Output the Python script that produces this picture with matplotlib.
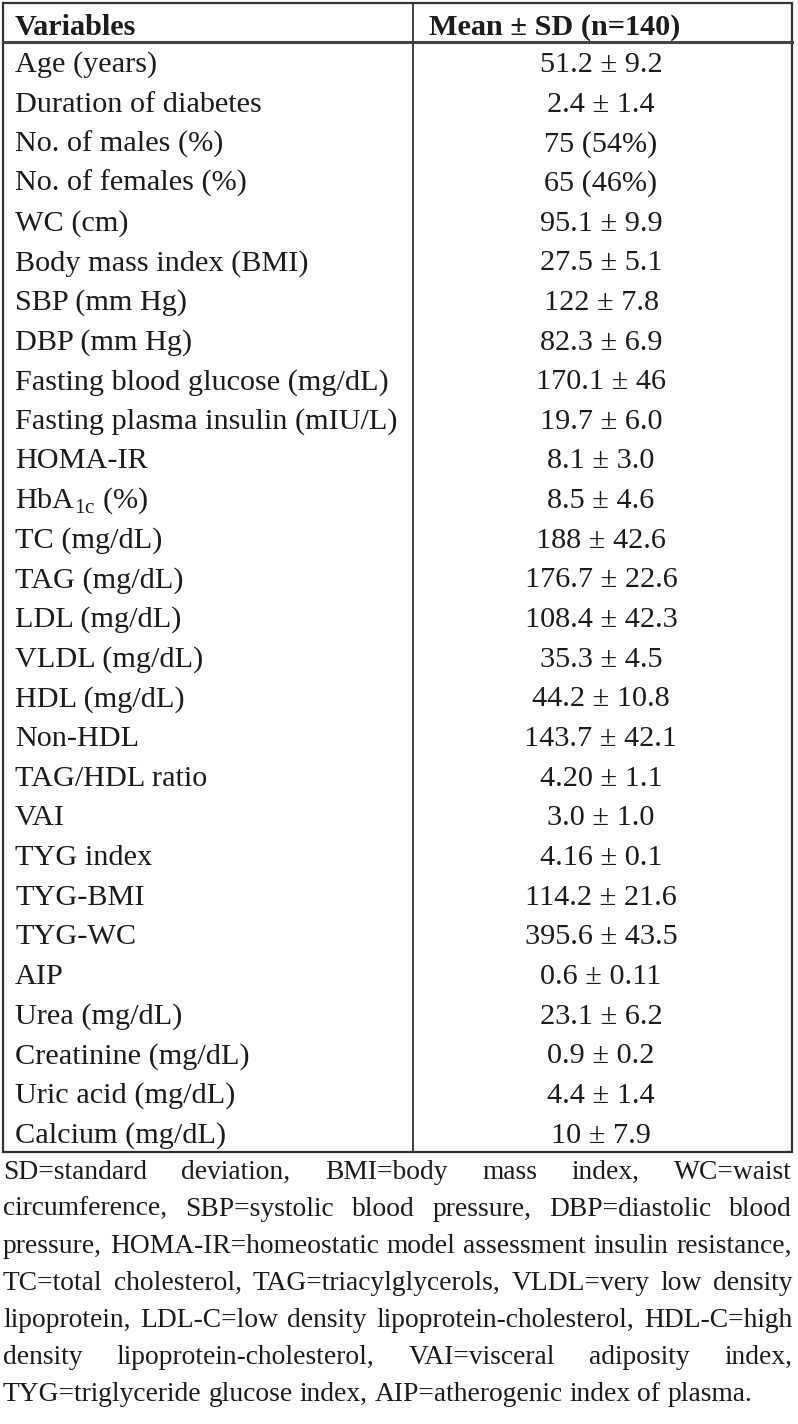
import matplotlib
matplotlib.use("Agg")
import matplotlib.pyplot as plt
from matplotlib import font_manager as fm

variables = ["Age (years)", "Duration of diabetes", "No. of males (%)", "No. of females (%)",
             "WC (cm)", "Body mass index (BMI)", "SBP (mm Hg)", "DBP (mm Hg)",
             "Fasting blood glucose (mg/dL)", "Fasting plasma insulin (mIU/L)", "HOMA-IR",
             r"HbA$_{\mathregular{1c}}$ (%)", "TC (mg/dL)", "TAG (mg/dL)", "LDL (mg/dL)",
             "VLDL (mg/dL)", "HDL (mg/dL)", "Non-HDL", "TAG/HDL ratio", "VAI", "TYG index",
             "TYG-BMI", "TYG-WC", "AIP", "Urea (mg/dL)", "Creatinine (mg/dL)",
             "Uric acid (mg/dL)", "Calcium (mg/dL)"]
values = ["51.2 ± 9.2", "2.4 ± 1.4", "75 (54%)", "65 (46%)", "95.1 ± 9.9", "27.5 ± 5.1",
          "122 ± 7.8", "82.3 ± 6.9", "170.1 ± 46", "19.7 ± 6.0", "8.1 ± 3.0", "8.5 ± 4.6",
          "188 ± 42.6", "176.7 ± 22.6", "108.4 ± 42.3", "35.3 ± 4.5", "44.2 ± 10.8",
          "143.7 ± 42.1", "4.20 ± 1.1", "3.0 ± 1.0", "4.16 ± 0.1", "114.2 ± 21.6",
          "395.6 ± 43.5", "0.6 ± 0.11", "23.1 ± 6.2", "0.9 ± 0.2", "4.4 ± 1.4", "10 ± 7.9"]
headers = ["Variables", "Mean ± SD (n=140)"]
footnote_lines = [
    "SD=standard deviation, BMI=body mass index, WC=waist",
    "circumference, SBP=systolic blood pressure, DBP=diastolic blood",
    "pressure, HOMA-IR=homeostatic model assessment insulin resistance,",
    "TC=total cholesterol, TAG=triacylglycerols, VLDL=very low density",
    "lipoprotein, LDL-C=low density lipoprotein-cholesterol, HDL-C=high",
    "density lipoprotein-cholesterol, VAI=visceral adiposity index,",
    "TYG=triglyceride glucose index, AIP=atherogenic index of plasma.",
]

plt.rcParams['font.family'] = ['Liberation Serif', 'DejaVu Serif']
plt.rcParams['mathtext.fontset'] = 'custom'
plt.rcParams['mathtext.rm'] = 'Liberation Serif'

# find a condensed serif for the footnote (reference footnote is horizontally squeezed)
foot_prop = None
for f in fm.fontManager.ttflist:
    fn = f.fname.lower().split('/')[-1]
    if ('notoserif' in fn and 'condensed' in fn and 'semi' not in fn and 'extra' not in fn
            and 'italic' not in fn and 'display' not in fn and fn.endswith('condensed-regular.ttf')):
        foot_prop = fm.FontProperties(fname=f.fname)
        break
if foot_prop is None:
    foot_prop = fm.FontProperties(family=['Liberation Serif', 'DejaVu Serif'])

W, H = 798, 1424
fig = plt.figure(figsize=(W / 100, H / 100), dpi=100)
ax = fig.add_axes([0, 0, 1, 1])
ax.set_xlim(0, W)
ax.set_ylim(H, 0)
ax.axis('off')

txt = '#1c1c1c'
line_c = '#333333'
left, right, top = 2.5, 792, 2.5
mid = 413
head_bot = 42
row_h = 39.65
bottom = head_bot + row_h * len(variables)
fs = 21.8

# borders
ax.plot([left, right, right, left, left], [top, top, bottom, bottom, top], color=line_c, lw=1.6,
        solid_joinstyle='miter')
ax.plot([left, right], [head_bot, head_bot], color='#444444', lw=2.2)
ax.plot([mid, mid], [top, bottom], color=line_c, lw=1.3)

ax.text(15, 35, headers[0], fontsize=fs, fontweight='bold', color=txt, va='baseline', ha='left')
ax.text(429, 35, headers[1], fontsize=fs, fontweight='bold', color=txt, va='baseline', ha='left')

for i, (v, m) in enumerate(zip(variables, values)):
    yb = head_bot + row_h * i + 30
    ax.text(15, yb, v, fontsize=fs, color=txt, va='baseline', ha='left')
    ax.text(601, yb, m, fontsize=fs, color=txt, va='baseline', ha='center')

# footnote, justified
renderer = fig.canvas.get_renderer()
fleft, fright = 3, 792
fw = fright - fleft
ffs = 20.0

def word_width(w, size):
    t = ax.text(0, 0, w, fontsize=size, fontproperties=foot_prop)
    t.set_fontsize(size)
    bb = t.get_window_extent(renderer)
    t.remove()
    return bb.width

def space_of(size):
    return word_width("a a", size) - word_width("aa", size)

space_w = space_of(ffs)
maxw = max(sum(word_width(w, ffs) for w in ln.split()) + space_w * (len(ln.split()) - 1)
           for ln in footnote_lines[:-1])
if maxw > fw:
    ffs = ffs * fw / maxw * 0.995
    space_w = space_of(ffs)

y0 = 1179
dy = 37.0
for k, ln in enumerate(footnote_lines):
    words = ln.split()
    widths = [word_width(w, ffs) for w in words]
    yb = y0 + dy * k
    if k == len(footnote_lines) - 1:
        gap = space_w
    else:
        gap = (fw - sum(widths)) / (len(words) - 1)
    x = fleft
    for w, wd in zip(words, widths):
        t = ax.text(x, yb, w, fontproperties=foot_prop, color=txt, va='baseline', ha='left')
        t.set_fontsize(ffs)
        x += wd + gap

fig.savefig("out.png", dpi=100)
